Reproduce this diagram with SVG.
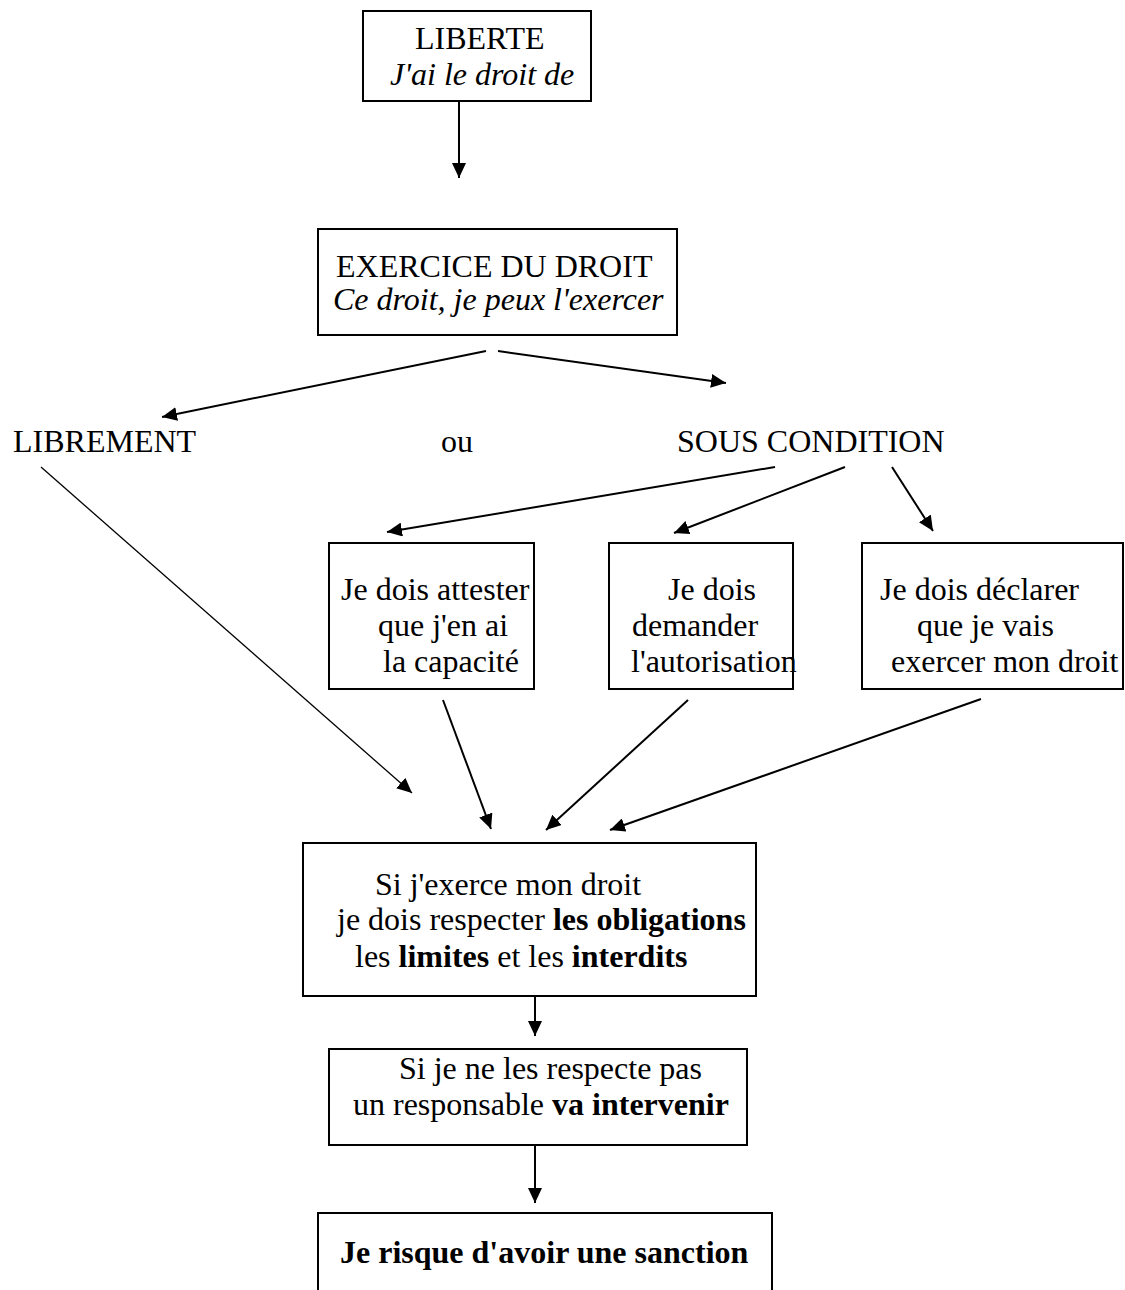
<svg xmlns="http://www.w3.org/2000/svg" width="1125" height="1290" viewBox="0 0 1125 1290">
<style>
text{font-family:"Liberation Serif","Times New Roman",serif;font-size:32px;fill:#000}
.it{font-style:italic}
.b{font-weight:bold}
.box{fill:#fff;stroke:#000;stroke-width:2}
.c{stroke:#000;stroke-width:2;fill:none}
.thin{stroke-width:1.3}
</style>
<defs>
<marker id="ah" markerUnits="userSpaceOnUse" markerWidth="16" markerHeight="14" refX="15" refY="7" orient="auto">
<path d="M0,0 L15,7 L0,14 z" fill="#000"/>
</marker>
</defs>
<rect width="1125" height="1290" fill="#fff"/>
<g id="connectors">
<line class="c" x1="459" y1="102" x2="459" y2="178" marker-end="url(#ah)"/>
<line class="c" x1="486" y1="351" x2="162" y2="417" marker-end="url(#ah)"/>
<line class="c" x1="498" y1="351" x2="726" y2="383" marker-end="url(#ah)"/>
<line class="c thin" x1="41" y1="467" x2="412" y2="793" marker-end="url(#ah)"/>
<line class="c" x1="775" y1="467" x2="387" y2="532" marker-end="url(#ah)"/>
<line class="c" x1="845" y1="467" x2="674" y2="533" marker-end="url(#ah)"/>
<line class="c" x1="892" y1="467" x2="933" y2="531" marker-end="url(#ah)"/>
<line class="c" x1="443" y1="700" x2="491" y2="829" marker-end="url(#ah)"/>
<line class="c" x1="688" y1="700" x2="546" y2="830" marker-end="url(#ah)"/>
<line class="c" x1="981" y1="699" x2="610" y2="830" marker-end="url(#ah)"/>
<line class="c" x1="535" y1="997" x2="535" y2="1036" marker-end="url(#ah)"/>
<line class="c" x1="535" y1="1140" x2="535" y2="1203" marker-end="url(#ah)"/>
</g>
<g id="liberte">
<rect class="box" x="363" y="11" width="228" height="90"/>
<text x="415" y="49">LIBERTE</text>
<text class="it" x="390" y="85">J'ai le droit de</text>
</g>
<g id="exercice">
<rect class="box" x="318" y="229" width="359" height="106"/>
<text x="336" y="277">EXERCICE DU DROIT</text>
<text class="it" x="333" y="310">Ce droit, je peux l'exercer</text>
</g>
<g id="librement"><text x="13" y="452">LIBREMENT</text></g>
<g id="ou"><text x="441" y="452">ou</text></g>
<g id="sous-condition"><text x="677" y="452">SOUS CONDITION</text></g>
<g id="attester">
<rect class="box" x="329" y="543" width="205" height="146"/>
<text x="341" y="600">Je dois attester</text>
<text x="378" y="636">que j'en ai</text>
<text x="383" y="672">la capacité</text>
</g>
<g id="autorisation">
<rect class="box" x="609" y="543" width="184" height="146"/>
<text x="668" y="600">Je dois</text>
<text x="632" y="636">demander</text>
<text x="631" y="672">l'autorisation</text>
</g>
<g id="declarer">
<rect class="box" x="862" y="543" width="261" height="146"/>
<text x="880" y="600">Je dois déclarer</text>
<text x="917" y="636">que je vais</text>
<text x="891" y="672">exercer mon droit</text>
</g>
<g id="obligations">
<rect class="box" x="303" y="843" width="453" height="153"/>
<text x="375" y="895">Si j'exerce mon droit</text>
<text x="337" y="930">je dois respecter <tspan class="b">les obligations</tspan></text>
<text x="355" y="967">les <tspan class="b">limites</tspan> et les <tspan class="b">interdits</tspan></text>
</g>
<g id="responsable">
<rect class="box" x="329" y="1049" width="418" height="96"/>
<text x="399" y="1079">Si je ne les respecte pas</text>
<text x="353" y="1115">un responsable <tspan class="b">va intervenir</tspan></text>
</g>
<g id="sanction">
<rect class="box" x="318" y="1213" width="454" height="100"/>
<text class="b" x="340" y="1263">Je risque d'avoir une sanction</text>
</g>
</svg>
